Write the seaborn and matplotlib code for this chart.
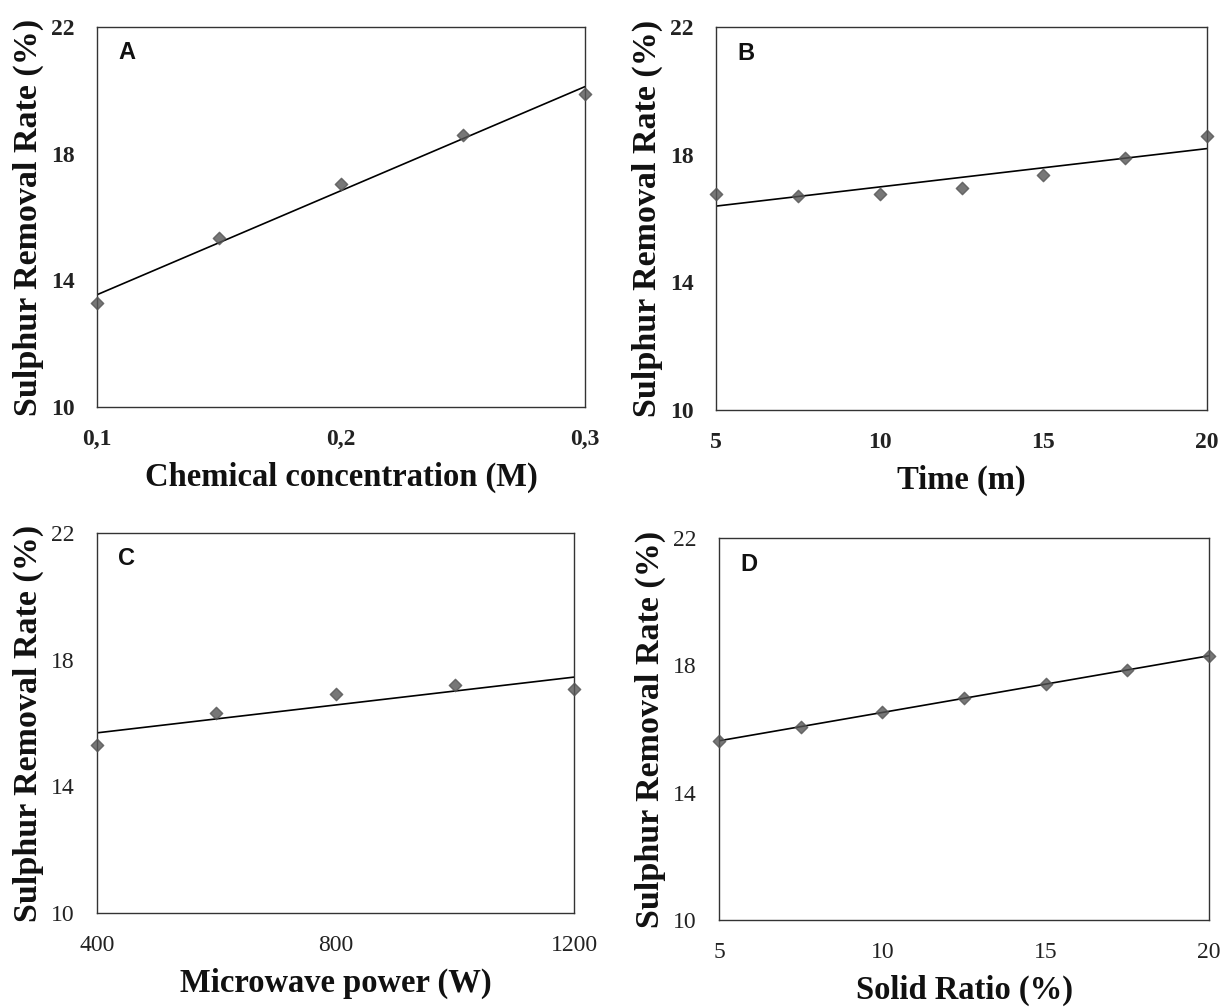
import numpy as np
import pandas as pd
import matplotlib
matplotlib.use('Agg')
import matplotlib.pyplot as plt
import seaborn as sns

# Data
conc_x = [0.10, 0.15, 0.20, 0.25, 0.30]
conc_y = [13.30, 15.33, 17.05, 18.60, 19.88]

time_x = [5, 7.5, 10, 12.5, 15, 17.5, 20]
time_y = [16.77, 16.69, 16.76, 16.97, 17.37, 17.89, 18.57]

power_x = [400, 600, 800, 1000, 1200]
power_y = [15.32, 16.33, 16.92, 17.19, 17.09]

solid_x = [5, 7.5, 10, 12.5, 15, 17.5, 20]
solid_y = [15.62, 16.06, 16.54, 16.98, 17.42, 17.85, 18.29]

y_ticks = [10, 14, 18, 22]
ylabel = 'Sulphur Removal Rate (%)'

sns.set_style('white')
plt.rcParams['font.family'] = ['Liberation Serif', 'DejaVu Serif']

fig = plt.figure(figsize=(12.25, 10.07), dpi=100)

panels = [
    # rect, x, y, xlabel, xticks, xticklabels, letter, bold ticks
    ([0.0792, 0.5958, 0.3984, 0.3774], conc_x, conc_y, 'Chemical concentration (M)',
     [0.1, 0.2, 0.3], ['0,1', '0,2', '0,3'], 'A', True),
    ([0.5845, 0.5929, 0.4008, 0.3803], time_x, time_y, 'Time (m)',
     [5, 10, 15, 20], ['5', '10', '15', '20'], 'B', True),
    ([0.0792, 0.0933, 0.3894, 0.3774], power_x, power_y, 'Microwave power (W)',
     [400, 800, 1200], ['400', '800', '1200'], 'C', False),
    ([0.5870, 0.0864, 0.4000, 0.3793], solid_x, solid_y, 'Solid Ratio (%)',
     [5, 10, 15, 20], ['5', '10', '15', '20'], 'D', False),
]

for rect, xs, ys, xlab, xt, xtl, letter, bold in panels:
    ax = fig.add_axes(rect)
    df = pd.DataFrame({'x': xs, 'y': ys})
    sns.regplot(data=df, x='x', y='y', ax=ax, ci=None, marker='D',
                scatter_kws={'color': '#555555', 's': 40, 'zorder': 3, 'clip_on': False},
                line_kws={'color': 'black', 'lw': 1.2})
    ax.set_xlim(xt[0], xt[-1])
    ax.set_ylim(10, 22)
    ax.set_xticks(xt)
    ax.set_xticklabels(xtl)
    ax.set_yticks(y_ticks)
    ax.set_yticklabels([str(t) for t in y_ticks])
    weight = 'bold' if bold else 'normal'
    for lab in ax.get_xticklabels() + ax.get_yticklabels():
        lab.set_fontsize(17)
        lab.set_fontweight(weight)
        lab.set_color('#222222')
    ax.tick_params(axis='both', length=0)
    ax.tick_params(axis='x', pad=16)
    ax.tick_params(axis='y', pad=16)
    for sp in ax.spines.values():
        sp.set_color('#333333')
        sp.set_linewidth(1.0)
    ax.set_xlabel(xlab, fontsize=23.5, fontweight='bold', labelpad=8, color='#111111')
    ax.set_ylabel(ylabel, fontsize=24.5, fontweight='bold', labelpad=5, color='#111111')
    ax.text(0.043, 0.932, letter, transform=ax.transAxes, fontsize=17,
            fontweight='bold', family=['Liberation Sans', 'DejaVu Sans'],
            ha='left', va='center', color='#111111')

fig.savefig('out.png', dpi=100, facecolor='white')
plt.close(fig)
